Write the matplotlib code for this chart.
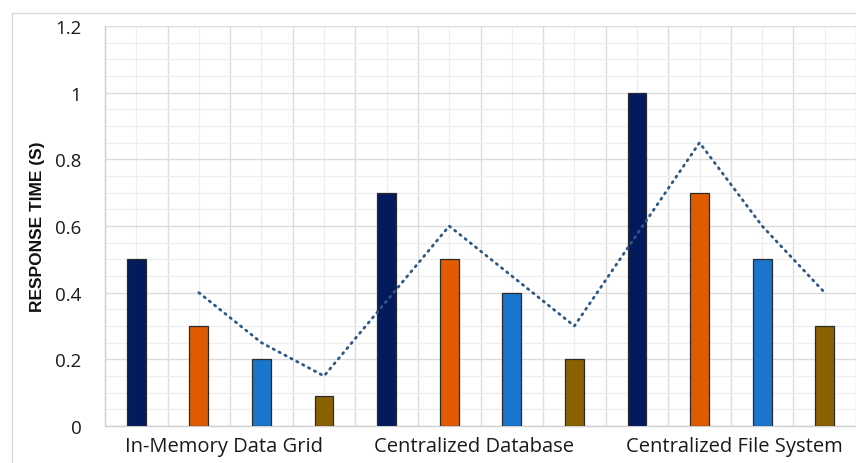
import matplotlib.pyplot as plt
from matplotlib.lines import Line2D
from matplotlib.ticker import MultipleLocator
import numpy as np

# categories and response times (seconds)
groups = ['In-Memory Data Grid', 'Centralized Database', 'Centralized File System']
bar_values = [0.5, 0.3, 0.2, 0.09,
              0.7, 0.5, 0.4, 0.2,
              1.0, 0.7, 0.5, 0.3]
bar_colors = ['#031b5c', '#e05a00', '#1a75cc', '#8a6100'] * 3

# trend line: slot index (1-based) and value, gaps are bridged
trend_slots = [2, 3, 4, 6, 7, 8, 10, 11, 12]
trend_values = [0.4, 0.25, 0.15, 0.6, 0.45, 0.3, 0.85, 0.6, 0.4]

W, H = 856, 464
fig = plt.figure(figsize=(W / 100, H / 100), dpi=100)
ax = fig.add_axes([105 / W, 37 / H, 1 - 105 / W, 400 / H])

x = np.arange(len(bar_values)) + 0.5
ax.bar(x, bar_values, width=0.3, color=bar_colors, edgecolor='#2b2b2b',
       linewidth=0.9, zorder=3)

tx = np.array(trend_slots) - 0.5
ax.plot(tx, trend_values, color='#2d5885', linewidth=2.0, linestyle=(0, (0.5, 1.9)),
        dash_capstyle='round', zorder=4)

ax.set_xlim(0, 12)
ax.set_ylim(0, 1.2)
ax.yaxis.set_major_locator(MultipleLocator(0.2))
ax.yaxis.set_minor_locator(MultipleLocator(0.05))
ax.xaxis.set_major_locator(MultipleLocator(1))
ax.xaxis.set_minor_locator(MultipleLocator(0.5))

ax.grid(which='major', color='#dcdcdc', linewidth=1.0, zorder=0)
ax.grid(which='minor', color='#eeeeee', linewidth=0.9, zorder=0)
ax.set_axisbelow(True)

ax.set_yticks(np.arange(0, 1.21, 0.2))
ax.set_yticklabels(['0', '0.2', '0.4', '0.6', '0.8', '1', '1.2'],
                   fontsize=13.5, family='Open Sans', color='#1a1a1a')
ax.tick_params(axis='y', which='both', length=0, pad=17)
ax.tick_params(axis='x', which='both', length=0, labelbottom=False)

# group labels sit slightly off the exact group centres
label_shift = [-0.1, -0.1, 0.05]
for i, name in enumerate(groups):
    ax.text(4 * i + 2 + label_shift[i], -0.06, name, ha='center', va='center',
            fontsize=14.5, family='Open Sans', color='#1a1a1a')

ax.set_ylabel('RESPONSE TIME (S)', fontsize=12.5, fontweight='bold',
              family=['Liberation Sans', 'DejaVu Sans'], color='#111111',
              labelpad=7)

for side in ['top', 'right']:
    ax.spines[side].set_visible(False)
for side in ['left', 'bottom']:
    ax.spines[side].set_color('#d0d0d0')
    ax.spines[side].set_linewidth(1.0)

# outer chart frame
fig.add_artist(Line2D([12 / W, 1], [1 - 14 / H, 1 - 14 / H],
                      transform=fig.transFigure, color='#d9d9d9', linewidth=1))
fig.add_artist(Line2D([12 / W, 12 / W], [0, 1 - 14 / H],
                      transform=fig.transFigure, color='#d9d9d9', linewidth=1))

fig.savefig('out.png', dpi=100)
